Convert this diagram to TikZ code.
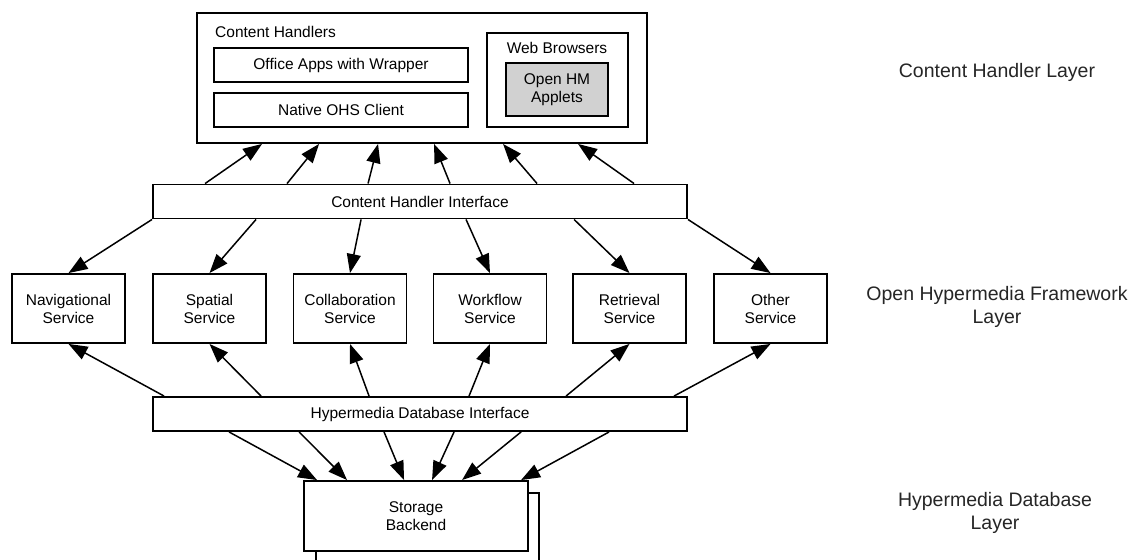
\documentclass[tikz,border=0pt]{standalone}
\usepackage{fontspec}
\setmainfont{Liberation Sans}
\usetikzlibrary{arrows.meta}
\begin{document}
\begin{tikzpicture}[x=1pt,y=-1pt,
  box/.style={draw=black, line width=1.9pt, fill=white, inner sep=0pt,
              align=center, font=\fontsize{15.5}{18}\selectfont},
  svc/.style={box, minimum width=113pt, minimum height=69pt},
  bar/.style={box, minimum width=534pt, minimum height=34pt},
  txt/.style={inner sep=0pt, align=center, font=\fontsize{15.5}{18}\selectfont},
  layer/.style={inner sep=0pt, align=center, text=black!85,
                font=\fontsize{19.5}{23}\selectfont},
  link/.style={line width=1.5pt, -{Triangle[length=19pt,width=14pt]}}
]
% page frame
\fill[white] (0,0) rectangle (1139,559);
\useasboundingbox (0,0) rectangle (1139,559);

% ---- content handler layer ----
\node[box, minimum width=450pt, minimum height=130pt] (ch) at (422,78) {};
\node[txt, anchor=west] (chlabel) at (215,32) {Content Handlers};
\node[box, minimum width=254pt, minimum height=34pt] (office) at (341,65) {Office Apps with Wrapper};
\node[box, minimum width=254pt, minimum height=34pt] (native) at (341,110) {Native OHS Client};
\node[box, minimum width=141pt, minimum height=94pt] (web) at (557.5,80) {};
\node[txt] (weblabel) at (557,48) {Web Browsers};
\node[box, fill=black!18, minimum width=102pt, minimum height=53pt] (applets) at (557,89.5) {Open HM\\Applets};

% ---- interfaces ----
\node[bar] (chi) at (420,201.5) {Content Handler Interface};
\node[bar] (hdi) at (420,414) {Hypermedia Database Interface};

% ---- services ----
\node[svc] (nav)   at (68.5,308.5)  {Navigational\\Service};
\node[svc] (spat)  at (209.5,308.5) {Spatial\\Service};
\node[svc] (coll)  at (350,308.5)   {Collaboration\\Service};
\node[svc] (work)  at (490,308.5)   {Workflow\\Service};
\node[svc] (retr)  at (629.5,308.5) {Retrieval\\Service};
\node[svc] (other) at (770.5,308.5) {Other\\Service};

% ---- storage backend with its offset shadow ----
\begin{scope}
  \clip (0,0) rectangle (1139,559);
  \node[box, minimum width=223pt, minimum height=70pt] (storeshadow) at (427.5,528) {};
\end{scope}
\node[box, minimum width=224pt, minimum height=70pt] (store) at (416,516) {Storage\\Backend};

% ---- layer captions ----
\node[layer] (l1) at (997,72) {Content Handler Layer};
\node[layer] (l2) at (997,306.5) {Open Hypermedia Framework\\Layer};
\node[layer] (l3) at (995,513) {Hypermedia Database\\Layer};

% ---- interface -> content handlers ----
\draw[link] ([xshift=53pt]chi.north west)  -- ([xshift=66pt]ch.south west);
\draw[link] ([xshift=135pt]chi.north west) -- ([xshift=123pt]ch.south west);
\draw[link] ([xshift=216pt]chi.north west) -- ([xshift=182pt]ch.south west);
\draw[link] ([xshift=298pt]chi.north west) -- ([xshift=238pt]ch.south west);
\draw[link] ([xshift=385pt]chi.north west) -- ([xshift=307pt]ch.south west);
\draw[link] ([xshift=482pt]chi.north west) -- ([xshift=382pt]ch.south west);

% ---- interface -> services ----
\draw[link] (chi.south west)                 -- (nav.north);
\draw[link] ([xshift=104pt]chi.south west)   -- (spat.north);
\draw[link] ([xshift=209pt]chi.south west)   -- (coll.north);
\draw[link] ([xshift=314pt]chi.south west)   -- (work.north);
\draw[link] ([xshift=422pt]chi.south west)   -- (retr.north);
\draw[link] (chi.south east)                 -- (other.north);

% ---- database interface -> services ----
\draw[link] ([xshift=12pt]hdi.north west)  -- (nav.south);
\draw[link] ([xshift=109pt]hdi.north west) -- (spat.south);
\draw[link] ([xshift=217pt]hdi.north west) -- (coll.south);
\draw[link] ([xshift=317pt]hdi.north west) -- (work.south);
\draw[link] ([xshift=414pt]hdi.north west) -- (retr.south);
\draw[link] ([xshift=522pt]hdi.north west) -- (other.south);

% ---- database interface -> storage ----
\draw[link] ([xshift=77pt]hdi.south west)  -- ([xshift=14pt]store.north west);
\draw[link] ([xshift=147pt]hdi.south west) -- ([xshift=44pt]store.north west);
\draw[link] ([xshift=232pt]hdi.south west) -- ([xshift=101pt]store.north west);
\draw[link] ([xshift=302pt]hdi.south west) -- ([xshift=129pt]store.north west);
\draw[link] ([xshift=369pt]hdi.south west) -- ([xshift=159pt]store.north west);
\draw[link] ([xshift=457pt]hdi.south west) -- ([xshift=218pt]store.north west);
\end{tikzpicture}
\end{document}
